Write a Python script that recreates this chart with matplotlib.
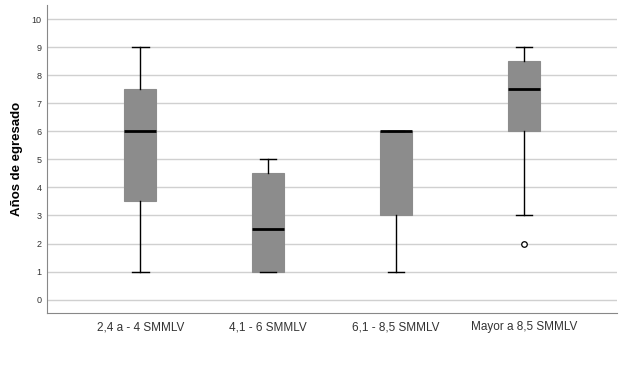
import matplotlib.pyplot as plt

# data
categories = ['2,4 a - 4 SMMLV', '4,1 - 6 SMMLV', '6,1 - 8,5 SMMLV', 'Mayor a 8,5 SMMLV']
medians = [6, 2.5, 6, 7.5]
q1 = [3.5, 1, 3, 6]
q3 = [7.5, 4.5, 6, 8.5]
whis_lo = [1, 1, 1, 3]
whis_hi = [9, 5, 6, 9]
outliers = [[], [], [], [2]]

plt.rcParams['font.family'] = 'Liberation Sans'

stats = []
for i, name in enumerate(categories):
    stats.append({'label': name, 'med': medians[i], 'q1': q1[i], 'q3': q3[i],
                  'whislo': whis_lo[i], 'whishi': whis_hi[i], 'fliers': outliers[i]})

fig = plt.figure(figsize=(6.24, 3.67), dpi=100)
ax = fig.add_axes([0.0753, 0.147, 0.9137, 0.839])

ax.bxp(stats, positions=range(len(categories)), widths=0.25, patch_artist=True,
       boxprops={'facecolor': '#8c8c8c', 'edgecolor': '#8c8c8c', 'linewidth': 0.8},
       medianprops={'color': 'black', 'linewidth': 2},
       whiskerprops={'color': 'black', 'linewidth': 1},
       capprops={'color': 'black', 'linewidth': 1},
       capwidths=0.13,
       flierprops={'marker': 'o', 'markersize': 4, 'markerfacecolor': 'white',
                   'markeredgecolor': 'black', 'markeredgewidth': 0.9})

ax.set_xlim(-0.73, 3.73)
ax.set_ylim(-0.48, 10.5)
ax.set_yticks(range(0, 11))
ax.yaxis.grid(True, color='#d0d0d0', linewidth=1)
ax.set_axisbelow(True)
ax.tick_params(axis='y', labelsize=6.5, length=0, pad=4, colors='#333333')
ax.tick_params(axis='x', labelsize=8.5, length=0, pad=6, colors='#333333')
ax.set_ylabel('Años de egresado', fontsize=9.5, fontweight='bold', labelpad=6)
for s in ['top', 'right']:
    ax.spines[s].set_visible(False)
for s in ['left', 'bottom']:
    ax.spines[s].set_color('#888888')

plt.savefig('out.png', dpi=100)
